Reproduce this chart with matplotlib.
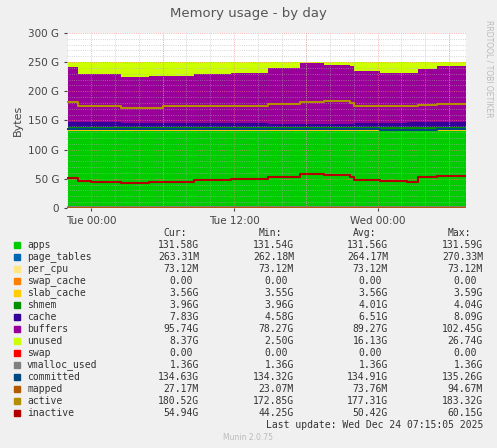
import numpy as np
import matplotlib
matplotlib.use("Agg")
import matplotlib.pyplot as plt

# time in hours relative to Tue 00:00
hours = [-1.94, -1.1, 0.0, 2.5, 4.9, 6.0, 8.6, 11.7, 14.8, 17.5, 19.5, 21.7, 22.0, 24.2, 26.5, 27.4, 29.0, 31.4]
apps = [131.6] * 18
page_tables = [0.26] * 18
per_cpu = [0.07] * 18
swap_cache = [0.0] * 18
slab_cache = [3.56] * 18
shmem = [4.0] * 18
cache = [8.0, 7.9, 7.5, 7.0, 6.5, 6.2, 5.8, 5.5, 5.0, 4.7, 4.6, 5.2, 6.0, 6.8, 7.3, 7.6, 7.8, 7.8]
buffers_top = [241, 230, 229, 225, 226, 226, 229, 232, 240, 248, 245, 243, 234, 231, 231, 239, 243, 243]
total = 251.0
active = [181, 175.5, 174, 172, 172, 174, 174, 175.5, 178, 181, 183, 180, 175.5, 174, 174, 177, 178, 179]
inactive = [51.6, 46.5, 45, 43, 44, 45, 47.6, 49, 53, 58.5, 56, 53, 48.8, 47, 45, 53, 55.6, 54]
committed = [134.6, 134.8, 135.0, 135.1, 135.2, 135.2, 135.0, 134.9, 134.8, 134.9, 135.0, 134.8, 134.6, 134.4, 134.3, 134.5, 134.6, 134.6]
vmalloc = [1.36] * 18
mapped = [0.03] * 18

names = ["apps", "page_tables", "per_cpu", "swap_cache", "slab_cache", "shmem", "cache", "buffers",
         "unused", "swap", "vmalloc_used", "committed", "mapped", "active", "inactive"]
colors = ["#00CC00", "#0066B3", "#FFE680", "#FF8000", "#FFCC00", "#008F00", "#330099", "#990099",
          "#CCFF00", "#FF0000", "#808080", "#00487D", "#B35A00", "#B38F00", "#B30000"]
cur = ["131.58G", "263.31M", "73.12M", "0.00", "3.56G", "3.96G", "7.83G", "95.74G", "8.37G", "0.00",
       "1.36G", "134.63G", "27.17M", "180.52G", "54.94G"]
mins = ["131.54G", "262.18M", "73.12M", "0.00", "3.55G", "3.96G", "4.58G", "78.27G", "2.50G", "0.00",
        "1.36G", "134.32G", "23.07M", "172.85G", "44.25G"]
avgs = ["131.56G", "264.17M", "73.12M", "0.00", "3.56G", "4.01G", "6.51G", "89.27G", "16.13G", "0.00",
        "1.36G", "134.91G", "73.76M", "177.31G", "50.42G"]
maxs = ["131.59G", "270.33M", "73.12M", "0.00", "3.59G", "4.04G", "8.09G", "102.45G", "26.74G", "0.00",
        "1.36G", "135.26G", "94.67M", "183.32G", "60.15G"]

W, H = 497, 448
fig = plt.figure(figsize=(W / 100, H / 100), dpi=100, facecolor="#F0F0F0")
ax = fig.add_axes([67 / W, 1 - 208 / H, (466 - 67) / W, (208 - 33) / H])
ax.set_facecolor("white")

x = np.array(hours)
stack = [apps, page_tables, per_cpu, swap_cache, slab_cache, shmem, cache]
base = np.zeros(len(x))
for vals, c in zip(stack, colors[:7]):
    top = base + np.array(vals)
    ax.fill_between(x, base, top, step="post", color=c, lw=0, zorder=1)
    base = top
bt = np.array(buffers_top, float)
ax.fill_between(x, base, bt, step="post", color=colors[7], lw=0, zorder=1)
ax.fill_between(x, bt, total, step="post", color=colors[8], lw=0, zorder=1)

for vals, c in [(vmalloc, colors[10]), (committed, colors[11]), (mapped, colors[12]),
                (active, colors[13]), (inactive, colors[14])]:
    ax.step(x, vals, where="post", color=c, lw=1.5, zorder=3)

ax.set_xlim(-1.94, 31.4)
ax.set_ylim(0, 300)
ax.set_yticks(range(0, 301, 50))
ax.set_yticklabels(["0"] + [f"{v} G" for v in range(50, 301, 50)])
ax.set_yticks(range(0, 301, 10), minor=True)
ax.set_xticks([0, 12, 24])
ax.set_xticklabels(["Tue 00:00", "Tue 12:00", "Wed 00:00"])
ax.set_xticks(np.arange(-2, 32, 2), minor=True)
ax.set_axisbelow(False)
ax.grid(which="minor", color="#B0B0B0", ls=":", lw=0.6, alpha=0.7, zorder=2)
for v in range(50, 301, 50):
    ax.axhline(v, color="#FF8080", ls=":", lw=0.6, alpha=0.8, zorder=2)
for v in range(0, 31, 6):
    ax.axvline(v, color="#FF8080", ls=":", lw=0.6, alpha=0.8, zorder=2)
ax.tick_params(labelsize=7.5, colors="#444444", length=2)
ax.tick_params(which="minor", length=0)
for s in ax.spines.values():
    s.set_visible(False)
ax.set_ylabel("Bytes", fontsize=8, color="#444444")

fig.text(248 / W, 1 - 14 / H, "Memory usage - by day", ha="center", va="center", fontsize=9.5, color="#555555")
fig.text(489 / W, 1 - 20 / H, "RRDTOOL / TOBI OETIKER", rotation=270, ha="center", va="top",
         fontsize=5.5, color="#BBBBBB")

mono = "DejaVu Sans Mono"
fs = 7
for xx, h in [(199, "Cur:"), (294, "Min:"), (388, "Avg:"), (483, "Max:")]:
    fig.text((xx - 12) / W, 1 - 233 / H, h, ha="right", va="center",
             fontsize=fs, family=mono, color="#333333")
for i, n in enumerate(names):
    y = 1 - (245 + 12 * i) / H
    fig.patches.append(plt.Rectangle((14 / W, y - 3 / H), 6 / W, 6 / H, color=colors[i],
                                     transform=fig.transFigure, figure=fig))
    fig.text(27 / W, y, n, va="center", fontsize=fs, family=mono, color="#333333")
    for xx, col in [(199, cur), (294, mins), (388, avgs), (483, maxs)]:
        v = col[i]
        off = 6 if not v.endswith(("G", "M")) else 0
        fig.text((xx - off) / W, y, v, ha="right", va="center", fontsize=fs, family=mono, color="#333333")
fig.text(483 / W, 1 - 425 / H, "Last update: Wed Dec 24 07:15:05 2025", ha="right", va="center",
         fontsize=fs, family=mono, color="#333333")
fig.text(248 / W, 1 - 437 / H, "Munin 2.0.75", ha="center", va="center", fontsize=5.5, color="#BBBBBB")

fig.savefig("out.png", dpi=100, facecolor=fig.get_facecolor())
